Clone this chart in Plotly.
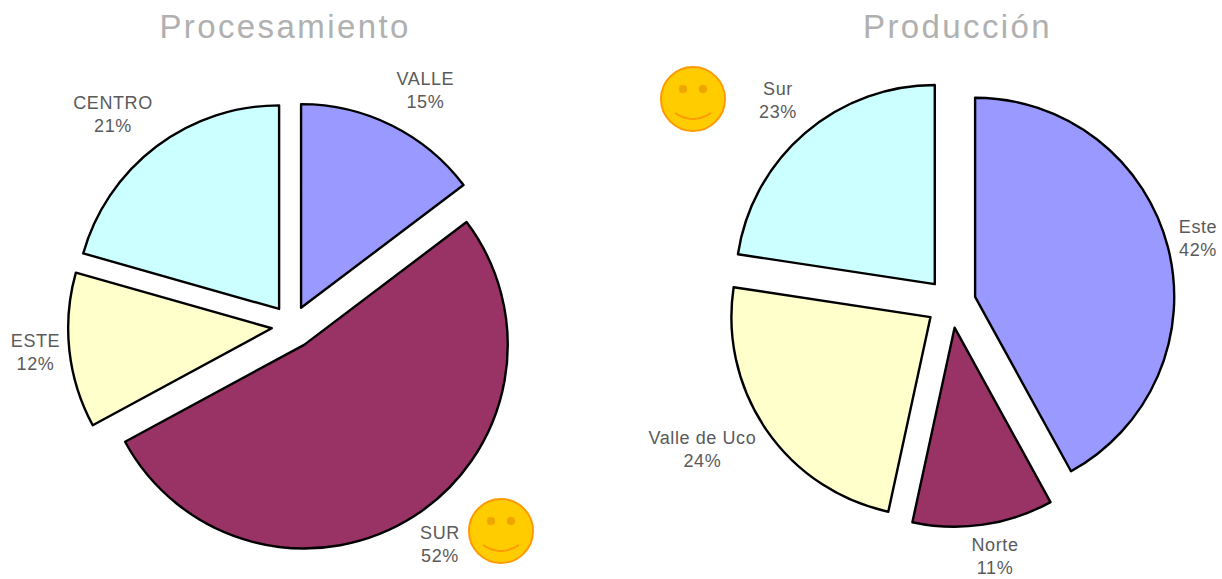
import plotly.graph_objects as go

W, H = 1222, 579
left_labels = ["VALLE", "SUR", "ESTE", "CENTRO"]
left_values = [14.7, 52.4, 12.3, 20.6]
right_labels = ["Este", "Norte", "Valle de Uco", "Sur"]
right_values = [42.0, 11.4, 24.0, 22.6]
colors = ["#9999FF", "#993366", "#FFFFCC", "#CCFFFF"]
titles = ["Procesamiento", "Producción"]

def dom(cx, cy, r):
    return dict(x=[(cx - r) / W, (cx + r) / W], y=[1 - (cy + r) / H, 1 - (cy - r) / H])

def pie(labels, values, d, pull):
    return go.Pie(labels=labels, values=values, sort=False, direction="clockwise", rotation=0,
                  pull=pull, domain=d, marker=dict(colors=colors, line=dict(color="black", width=2.4)),
                  textinfo="none", hoverinfo="label+percent", automargin=False, showlegend=False)

fig = go.Figure([pie(left_labels, left_values, dom(292, 326, 226), [0.1, 0.11, 0.1, 0.105]),
                 pie(right_labels, right_values, dom(951, 303, 224), 0.125)])

label_pos = [[(425, 90), (440, 544), (35, 352), (113, 114)],
             [(1198, 238), (995, 556), (702, 449), (778, 100)]]
ann = []
for names, vals, pos in zip((left_labels, right_labels), (left_values, right_values), label_pos):
    for n, v, (x, y) in zip(names, vals, pos):
        ann.append(dict(text=f"{n}<br>{round(v)}%", x=x / W, y=1 - y / H, xanchor="center", yanchor="middle",
                        xref="paper", yref="paper", showarrow=False,
                        font=dict(family="Liberation Sans", size=18, color="#5A5A5A")))
for t, x in zip(titles, (173, 873)):
    ann.append(dict(text=t, x=x / W, y=1 - 27 / H, xanchor="left", yanchor="middle",
                    xref="paper", yref="paper", showarrow=False,
                    font=dict(family="Liberation Sans", size=33, color="#B0B0B0")))

def smiley(cx, cy):
    r = 32
    def c(x0, y0, x1, y1, **k):
        return dict(type="circle", xref="paper", yref="paper", x0=x0 / W, x1=x1 / W,
                    y0=1 - y0 / H, y1=1 - y1 / H, **k)
    out = [c(cx - r, cy - r, cx + r, cy + r, fillcolor="#FFCC00", line=dict(color="#FF9900", width=2))]
    for dx in (-10, 10):
        out.append(c(cx + dx - 4, cy - 14, cx + dx + 4, cy - 6, fillcolor="#E8A800",
                     line=dict(color="#FFAA00", width=1)))
    x0, x1, ym, yb = (cx - 18) / W, (cx + 18) / W, 1 - (cy + 14) / H, 1 - (cy + 26) / H
    out.append(dict(type="path", xref="paper", yref="paper",
                    path=f"M {x0} {ym} Q {(x0 + x1) / 2} {yb} {x1} {ym}",
                    line=dict(color="#FF9900", width=2)))
    return out

fig.update_layout(width=W, height=H, margin=dict(l=0, r=0, t=0, b=0), paper_bgcolor="white",
                  annotations=ann, shapes=smiley(501, 531) + smiley(693, 99))

post = """
document.body.style.margin = '0';
document.querySelectorAll('.annotation-text').forEach(function (t) {
  t.style.letterSpacing = parseFloat(t.style.fontSize) > 30 ? '2.4px' : '0.6px';
});
"""
fig.write_html("out.html", post_script=post, config={"displayModeBar": False})
